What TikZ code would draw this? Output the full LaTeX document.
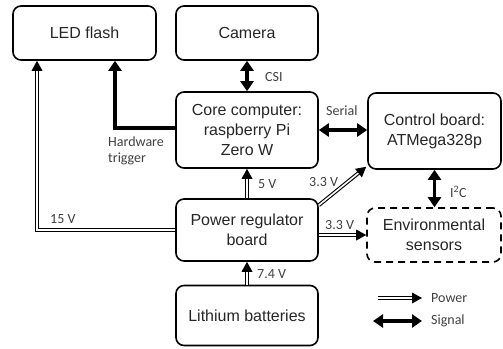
\documentclass[tikz,border=0pt]{standalone}
\usepackage{fontspec}
\setmainfont{Liberation Sans}
\newfontfamily\lblfont{Carlito}
\usetikzlibrary{arrows.meta,calc}
\newcommand{\powhead}[2]{%
  \fill[black] (#2) -- ($($(#2)!10pt!(#1)$)!5.5pt!90:(#2)$) -- ($($(#2)!10pt!(#1)$)!5.5pt!-90:(#2)$) -- cycle;}
\begin{document}
\begin{tikzpicture}[x=1pt,y=-1pt,
  box/.style={draw, line width=1.6pt, rounded corners=8pt, align=center, inner sep=0pt,
    font=\fontsize{16}{20}\selectfont, text=black!85},
  dbox/.style={box, dashed, dash pattern=on 7pt off 5pt},
  sigline/.style={line width=3.6pt, -{Triangle[length=10pt,width=13pt]}},
  sigboth/.style={line width=3.6pt, {Triangle[length=10pt,width=13pt]}-{Triangle[length=10pt,width=13pt]}},
  powbody/.style={draw=black, double=white, line width=1.1pt, double distance=1.6pt, shorten >=9pt},
  lbl/.style={font=\lblfont\fontsize{14}{16}\selectfont, text=black!75, inner sep=0pt}
]
\useasboundingbox (0,0) rectangle (503,348);

\node[box, minimum width=143pt, minimum height=54pt] (led) at (84.5,33) {LED flash};
\node[box, minimum width=142pt, minimum height=54pt] (cam) at (247,33) {Camera};
\node[box, minimum width=142pt, minimum height=76pt] (core) at (247,130) {Core computer:\\raspberry Pi\\Zero W};
\node[box, minimum width=133pt, minimum height=76pt] (cb) at (434.5,131) {Control board:\\ATMega328p};
\node[box, minimum width=142pt, minimum height=62pt] (pr) at (247,230) {Power regulator\\board};
\node[dbox, minimum width=134pt, minimum height=54pt] (env) at (434,235) {Environmental\\sensors};
\node[box, minimum width=142pt, minimum height=60pt] (bat) at (247,315.5) {Lithium batteries};

% signal connectors
\draw[sigboth] (cam.south) -- (core.north);
\draw[sigboth] (core.east) -- (core.east -| cb.west);
\draw[sigboth] (cb.south) -- (cb.south |- env.north);
\draw[sigline] ([yshift=2pt]core.west) -| ([xshift=30.5pt]led.south);

% power connectors
\coordinate (t15) at ([xshift=-47.5pt]led.south);
\coordinate (t15b) at ([yshift=-10pt]t15);
\draw[powbody] (pr.west) -| (t15);
\powhead{t15b}{t15}

\draw[powbody] (pr.north) -- (core.south);
\powhead{pr.north}{core.south}

\draw[powbody] (bat.north) -- (pr.south);
\powhead{bat.north}{pr.south}

\coordinate (s33) at (pr.east |- env.west);
\draw[powbody] (s33) -- (env.west);
\powhead{s33}{env.west}

\coordinate (d33a) at ([yshift=-7pt]pr.north east);
\coordinate (d33b) at ([xshift=-1pt,yshift=3pt]cb.south west);
\draw[powbody] (d33a) -- (d33b);
\powhead{d33a}{d33b}

% labels
\node[lbl, anchor=west] (lcsi) at (265,77) {CSI};
\node[lbl, anchor=west] (lser) at (326,111) {Serial};
\node[lbl, anchor=north west, align=left] (lhw) at (108,137) {Hardware\\trigger};
\node[lbl, anchor=west] (l15) at (50,219) {15 V};
\node[lbl, anchor=west] (l5) at (258,184) {5 V};
\node[lbl, anchor=west] (l33a) at (309,182) {3.3 V};
\node[lbl, anchor=west] (l33b) at (325,225) {3.3 V};
\node[lbl, anchor=west] (li2c) at (450,192) {I\textsuperscript{2}C};
\node[lbl, anchor=west] (l74) at (257,274) {7.4 V};

% legend
\coordinate (lpa) at (378,298);
\coordinate (lpb) at (422,298);
\coordinate (lsa) at (373,321);
\coordinate (lsb) at (422,321);
\draw[powbody] (lpa) -- (lpb);
\powhead{lpa}{lpb}
\draw[sigboth] (lsa) -- (lsb);
\node[lbl, anchor=west] (lpow) at (431,298) {Power};
\node[lbl, anchor=west] (lsig) at (431,321) {Signal};
\end{tikzpicture}
\end{document}
